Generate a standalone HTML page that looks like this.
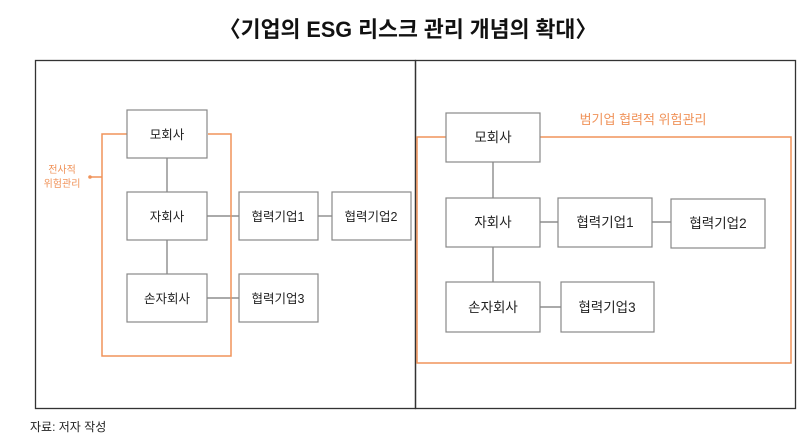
<!DOCTYPE html>
<html><head><meta charset="utf-8"><style>
html,body{margin:0;padding:0;background:#fff;}
svg{display:block}
text{font-family:"Liberation Sans","Noto Sans CJK KR",sans-serif;}
</style></head><body>
<svg width="809" height="443" viewBox="0 0 809 443" xmlns="http://www.w3.org/2000/svg">
<text x="219" y="37" font-size="22" font-weight="bold" textLength="378" lengthAdjust="spacingAndGlyphs" fill="#111">〈기업의 ESG 리스크 관리 개념의 확대〉</text>
<rect x="35.5" y="60.5" width="380" height="348" fill="none" stroke="#333" stroke-width="1.3"/>
<rect x="415.5" y="60.5" width="380" height="348" fill="none" stroke="#333" stroke-width="1.3"/>
<g stroke="#777" stroke-width="1.2" fill="none">
<line x1="167" y1="158" x2="167" y2="192"/><line x1="167" y1="240" x2="167" y2="274"/>
<line x1="207" y1="216" x2="239" y2="216"/><line x1="318" y1="216" x2="332" y2="216"/>
<line x1="207" y1="298" x2="239" y2="298"/>
<line x1="493" y1="162" x2="493" y2="198"/><line x1="493" y1="247" x2="493" y2="282"/>
<line x1="540" y1="222" x2="558" y2="222"/><line x1="652" y1="222" x2="671" y2="222"/>
<line x1="540" y1="307" x2="561" y2="307"/>
</g>
<g stroke="#f0935a" stroke-width="1.5" fill="none">
<polyline points="127,134 102,134 102,356 231,356 231,134 208,134"/>
<line x1="90" y1="177" x2="102" y2="177"/>
<polyline points="446,137 417,137 417,363 791,363 791,137 540,137"/>
</g>
<circle cx="90" cy="177" r="1.8" fill="#f0935a"/>
<g fill="#f0935a" font-size="10" text-anchor="middle">
<text x="62" y="173">전사적</text><text x="62" y="187">위험관리</text>
</g>
<text x="643" y="124" fill="#f0935a" font-size="13" text-anchor="middle">범기업 협력적 위험관리</text>
<g fill="#fff" stroke="#888" stroke-width="1.2">
<rect x="127" y="110" width="80" height="48"/><rect x="127" y="192" width="80" height="48"/><rect x="127" y="274" width="80" height="48"/>
<rect x="239" y="192" width="79" height="48"/><rect x="332" y="192" width="79" height="48"/><rect x="239" y="274" width="79" height="48"/>
<rect x="446" y="113" width="94" height="49"/><rect x="446" y="198" width="94" height="49"/><rect x="446" y="282" width="94" height="50"/>
<rect x="558" y="198" width="94" height="49"/><rect x="671" y="199" width="94" height="49"/><rect x="561" y="282" width="93" height="50"/>
</g>
<g fill="#222" font-size="12.5" text-anchor="middle">
<text x="167" y="139">모회사</text><text x="167" y="221">자회사</text><text x="167" y="303">손자회사</text>
<text x="278" y="221">협력기업1</text><text x="371" y="221">협력기업2</text><text x="278" y="303">협력기업3</text>
</g>
<g fill="#222" font-size="13.5" text-anchor="middle">
<text x="493" y="142">모회사</text><text x="493" y="227">자회사</text><text x="493" y="312">손자회사</text>
<text x="605" y="227">협력기업1</text><text x="718" y="228">협력기업2</text><text x="607" y="312">협력기업3</text>
</g>
<text x="30" y="431" font-size="12" fill="#222">자료: 저자 작성</text>
</svg>
</body></html>
